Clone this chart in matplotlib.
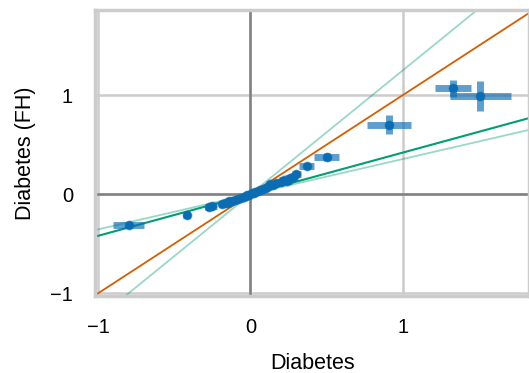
import matplotlib
matplotlib.use("Agg")
import matplotlib.pyplot as plt
import numpy as np

plt.rcParams['font.family'] = ['Liberation Sans', 'DejaVu Sans']

# estimates
x_vals = [-0.80, -0.42, -0.27, -0.25, -0.19, -0.17, -0.15, -0.14, -0.12, -0.10, -0.08, -0.06,
          -0.04, -0.03, -0.02, -0.01, 0.01, 0.02, 0.03, 0.05, 0.06, 0.08, 0.10, 0.12, 0.13,
          0.15, 0.17, 0.20, 0.22, 0.24, 0.26, 0.28, 0.30, 0.37, 0.50, 0.91, 1.33, 1.51]
y_vals = [-0.31, -0.21, -0.13, -0.12, -0.10, -0.09, -0.085, -0.07, -0.07, -0.06, -0.05, -0.04,
          -0.03, -0.02, -0.01, -0.005, 0.01, 0.015, 0.02, 0.03, 0.04, 0.05, 0.06, 0.08, 0.10,
          0.09, 0.11, 0.12, 0.14, 0.13, 0.16, 0.17, 0.20, 0.28, 0.38, 0.70, 1.07, 0.99]
x_err = [0.10, 0.02, 0.03, 0.03, 0.02, 0.02, 0.02, 0.02, 0.02, 0.02, 0.01, 0.01,
         0.01, 0.01, 0.01, 0.01, 0.01, 0.01, 0.01, 0.01, 0.01, 0.02, 0.02, 0.02, 0.02,
         0.02, 0.02, 0.02, 0.03, 0.03, 0.03, 0.03, 0.03, 0.05, 0.08, 0.145, 0.12, 0.20]
y_err = [0.01, 0.01, 0.01, 0.01, 0.01, 0.01, 0.01, 0.01, 0.01, 0.01, 0.01, 0.01,
         0.01, 0.01, 0.01, 0.01, 0.01, 0.01, 0.01, 0.01, 0.01, 0.01, 0.01, 0.01, 0.01,
         0.01, 0.01, 0.02, 0.02, 0.02, 0.02, 0.02, 0.02, 0.02, 0.04, 0.095, 0.085, 0.15]

# fitted slopes through the origin
slope_identity = 1.0
slope_fit = 0.42
slope_ci = [1.25, 0.355]

fig = plt.figure(figsize=(5.29, 3.73), dpi=100)
ax = fig.add_axes([0.18, 0.206, 0.82, 0.767])

xs = np.array([-1.1, 2.0])
ax.axhline(0, color='#808080', lw=1.8, zorder=1)
ax.axvline(0, color='#808080', lw=1.8, zorder=1)
ax.plot(xs, slope_identity * xs, color='#d55e00', lw=1.3, zorder=2)
for s in slope_ci:
    ax.plot(xs, s * xs, color='#009e73', alpha=0.4, lw=1.3, zorder=2)
ax.plot(xs, slope_fit * xs, color='#009e73', lw=1.5, zorder=2)

ax.errorbar(x_vals, y_vals, xerr=x_err, yerr=y_err, fmt='o', ms=6,
            color='#0a6cb3', ecolor='#0a6cb3', elinewidth=5, capsize=0,
            alpha=0.65, zorder=3)
ax.scatter(x_vals, y_vals, s=22, color='#0a6cb3', zorder=4)

ax.set_xlim(-1.02, 1.83)
ax.set_ylim(-1.03, 1.86)
ax.set_xticks([-1, 0, 1])
ax.set_yticks([-1, 0, 1])
ax.set_xticklabels(['\u22121', '0', '1'])
ax.set_yticklabels(['\u22121', '0', '1'])
ax.grid(True, color='#cccccc', lw=1.8, zorder=0)
ax.set_axisbelow(True)
ax.tick_params(length=0, labelsize=14.5, pad=16)
for sp in ax.spines.values():
    sp.set_color('#cccccc')
    sp.set_linewidth(2.5)

ax.set_xlabel('Diabetes', fontsize=15.5, labelpad=11)
ax.set_ylabel('Diabetes (FH)', fontsize=15.5, labelpad=10)

fig.savefig('out.png', dpi=100)
